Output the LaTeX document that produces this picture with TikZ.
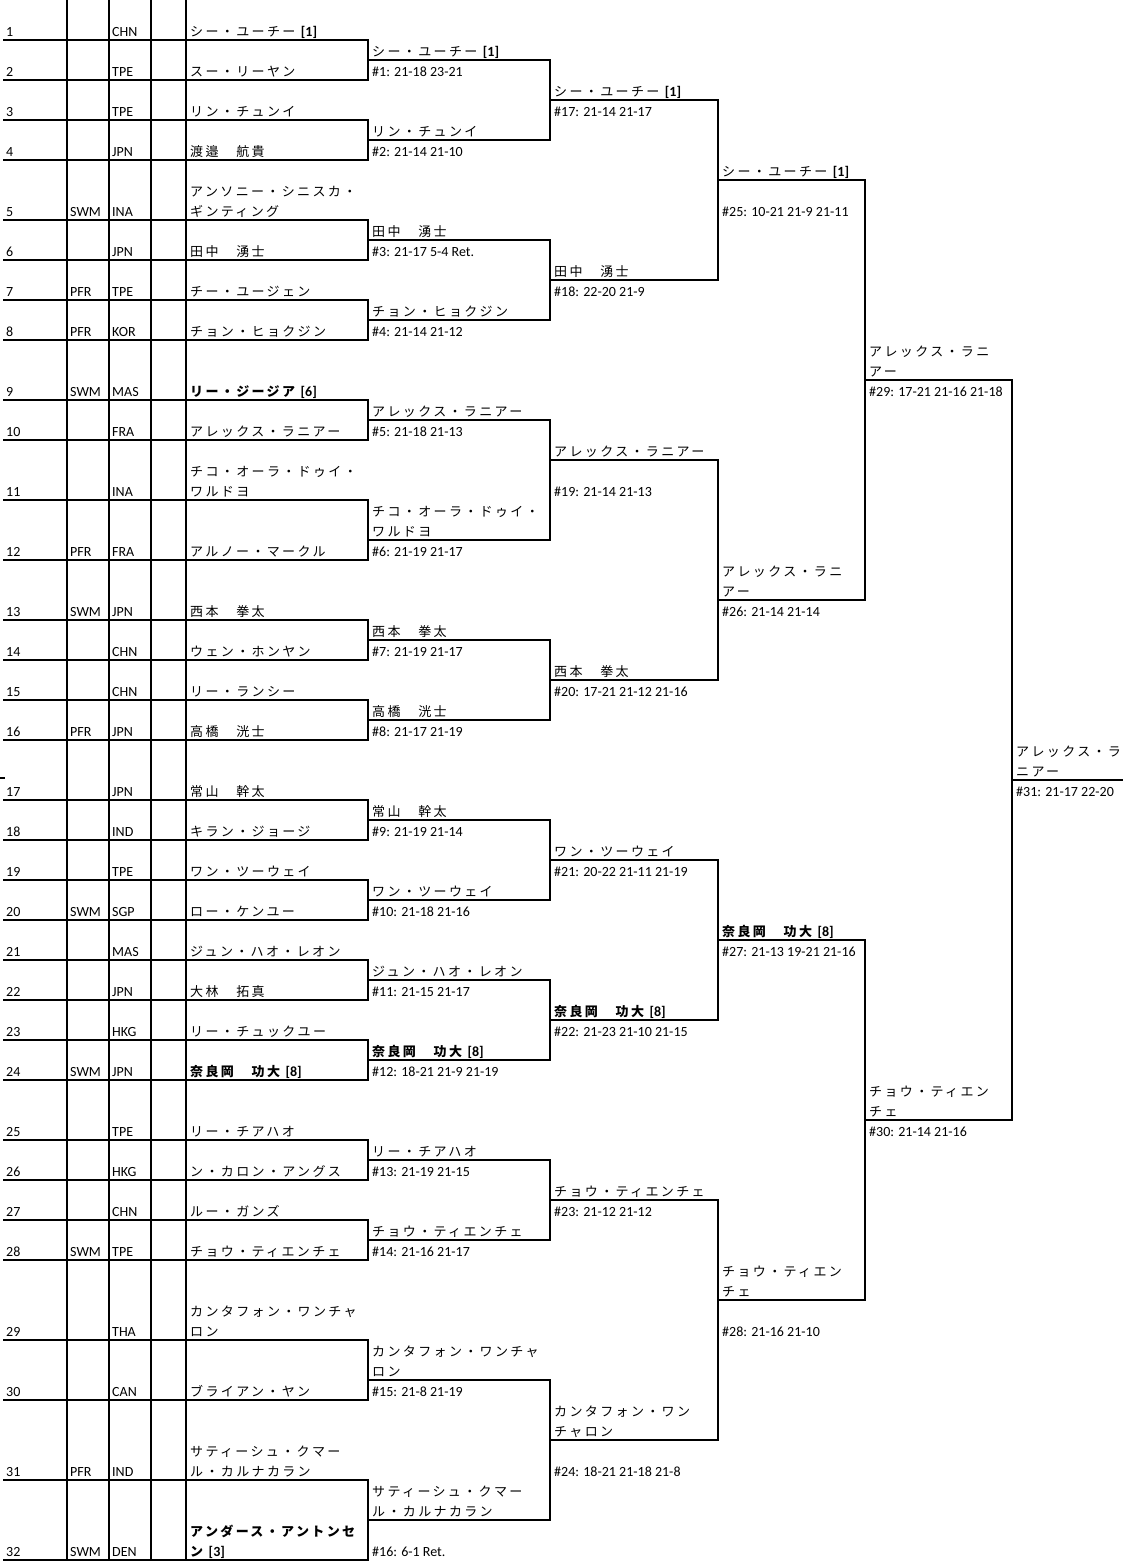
\documentclass[tikz,border=0pt]{standalone}
\usepackage{fontspec}
\setmainfont{Carlito}
\newfontfamily\jp{Noto Sans CJK JP}[Scale=0.93,LetterSpace=18]
\newcommand\J[1]{{\jp #1}}
\newcommand\JB[1]{{\jp\bfseries #1}}
\newcounter{tn}
\newcommand\tx[3]{\stepcounter{tn}\node[lbl] (t\arabic{tn}) at (#1,#2) {#3};}
\newcommand\prow[5]{\tx{6}{#1-4}{#2}\tx{70}{#1-4}{#3}\tx{112}{#1-4}{#4}\tx{190}{#1-4}{#5}}
% match label: x, line y, name, score baseline, score
\newcommand\mt[5]{\tx{#1}{#2-4}{#3}\tx{#1}{#4}{#5}}
\begin{document}
\begin{tikzpicture}[x=1pt,y=-1pt,
  lbl/.style={anchor=base west,inner sep=0pt,font=\fontsize{14}{16}\selectfont},
  ln/.style={line width=1.1pt,line cap=rect}]
\useasboundingbox (0,0) rectangle (1122,1561);
\fill[white] (0,0) rectangle (1122,1561);

% table grid
\foreach \xx in {67,109,151,186} \draw[ln] (\xx,0) -- (\xx,1560);
\foreach \b in {40,80,120,160,220,260,300,340,400,440,500,560,620,660,700,740,800,840,880,920,960,1000,1040,1080,1140,1180,1220,1260,1340,1400,1480,1560}
  \draw[ln] (4,\b) -- (368,\b);
\draw[ln] (0,778) -- (4,778);

% round 1
\foreach \a/\b in {40/80,120/160,220/260,300/340,400/440,500/560,620/660,700/740,800/840,880/920,960/1000,1040/1080,1140/1180,1220/1260,1340/1400,1480/1560}
  \draw[ln] (368,\a) -- (368,\b);
\foreach \h in {60,140,240,320,420,540,640,720,820,900,980,1060,1160,1240,1380,1520}
  \draw[ln] (368,\h) -- (550,\h);
% round 2
\foreach \a/\b in {60/140,240/320,420/540,640/720,820/900,980/1060,1160/1240,1380/1520}
  \draw[ln] (550,\a) -- (550,\b);
\foreach \h in {100,280,460,680,860,1020,1200,1440}
  \draw[ln] (550,\h) -- (718,\h);
% round 3
\foreach \a/\b in {100/280,460/680,860/1020,1200/1440}
  \draw[ln] (718,\a) -- (718,\b);
\foreach \h in {180,600,940,1300}
  \draw[ln] (718,\h) -- (865,\h);
% semifinals
\foreach \a/\b in {180/600,940/1300}
  \draw[ln] (865,\a) -- (865,\b);
\foreach \h in {380,1120}
  \draw[ln] (865,\h) -- (1012,\h);
% final
\draw[ln] (1012,380) -- (1012,1120);
\draw[ln] (1012,780) -- (1122,780);

% players
\prow{40}{1}{}{CHN}{\J{シー・ユーチー} \textbf{[1]}}
\prow{80}{2}{}{TPE}{\J{スー・リーヤン}}
\prow{120}{3}{}{TPE}{\J{リン・チュンイ}}
\prow{160}{4}{}{JPN}{\J{渡邉　航貴}}
\prow{220}{5}{SWM}{INA}{\J{ギンティング}}
\tx{190}{196}{\J{アンソニー・シニスカ・}}
\prow{260}{6}{}{JPN}{\J{田中　湧士}}
\prow{300}{7}{PFR}{TPE}{\J{チー・ユージェン}}
\prow{340}{8}{PFR}{KOR}{\J{チョン・ヒョクジン}}
\prow{400}{9}{SWM}{MAS}{\JB{リー・ジージア} \textbf{[6]}}
\prow{440}{10}{}{FRA}{\J{アレックス・ラニアー}}
\prow{500}{11}{}{INA}{\J{ワルドヨ}}
\tx{190}{476}{\J{チコ・オーラ・ドゥイ・}}
\prow{560}{12}{PFR}{FRA}{\J{アルノー・マークル}}
\prow{620}{13}{SWM}{JPN}{\J{西本　拳太}}
\prow{660}{14}{}{CHN}{\J{ウェン・ホンヤン}}
\prow{700}{15}{}{CHN}{\J{リー・ランシー}}
\prow{740}{16}{PFR}{JPN}{\J{高橋　洸士}}
\prow{800}{17}{}{JPN}{\J{常山　幹太}}
\prow{840}{18}{}{IND}{\J{キラン・ジョージ}}
\prow{880}{19}{}{TPE}{\J{ワン・ツーウェイ}}
\prow{920}{20}{SWM}{SGP}{\J{ロー・ケンユー}}
\prow{960}{21}{}{MAS}{\J{ジュン・ハオ・レオン}}
\prow{1000}{22}{}{JPN}{\J{大林　拓真}}
\prow{1040}{23}{}{HKG}{\J{リー・チュックユー}}
\prow{1080}{24}{SWM}{JPN}{\JB{奈良岡　功大} \textbf{[8]}}
\prow{1140}{25}{}{TPE}{\J{リー・チアハオ}}
\prow{1180}{26}{}{HKG}{\J{ン・カロン・アングス}}
\prow{1220}{27}{}{CHN}{\J{ルー・ガンズ}}
\prow{1260}{28}{SWM}{TPE}{\J{チョウ・ティエンチェ}}
\prow{1340}{29}{}{THA}{\J{ロン}}
\tx{190}{1316}{\J{カンタフォン・ワンチャ}}
\prow{1400}{30}{}{CAN}{\J{ブライアン・ヤン}}
\prow{1480}{31}{PFR}{IND}{\J{ル・カルナカラン}}
\tx{190}{1456}{\J{サティーシュ・クマー}}
\prow{1560}{32}{SWM}{DEN}{\JB{ン} \textbf{[3]}}
\tx{190}{1536}{\JB{アンダース・アントンセ}}

% round 1 results
\mt{372}{60}{\J{シー・ユーチー} \textbf{[1]}}{76}{\#1: 21-18 23-21}
\mt{372}{140}{\J{リン・チュンイ}}{156}{\#2: 21-14 21-10}
\mt{372}{240}{\J{田中　湧士}}{256}{\#3: 21-17 5-4 Ret.}
\mt{372}{320}{\J{チョン・ヒョクジン}}{336}{\#4: 21-14 21-12}
\mt{372}{420}{\J{アレックス・ラニアー}}{436}{\#5: 21-18 21-13}
\mt{372}{540}{\J{ワルドヨ}}{556}{\#6: 21-19 21-17}
\tx{372}{516}{\J{チコ・オーラ・ドゥイ・}}
\mt{372}{640}{\J{西本　拳太}}{656}{\#7: 21-19 21-17}
\mt{372}{720}{\J{高橋　洸士}}{736}{\#8: 21-17 21-19}
\mt{372}{820}{\J{常山　幹太}}{836}{\#9: 21-19 21-14}
\mt{372}{900}{\J{ワン・ツーウェイ}}{916}{\#10: 21-18 21-16}
\mt{372}{980}{\J{ジュン・ハオ・レオン}}{996}{\#11: 21-15 21-17}
\mt{372}{1060}{\JB{奈良岡　功大} \textbf{[8]}}{1076}{\#12: 18-21 21-9 21-19}
\mt{372}{1160}{\J{リー・チアハオ}}{1176}{\#13: 21-19 21-15}
\mt{372}{1240}{\J{チョウ・ティエンチェ}}{1256}{\#14: 21-16 21-17}
\mt{372}{1380}{\J{ロン}}{1396}{\#15: 21-8 21-19}
\tx{372}{1356}{\J{カンタフォン・ワンチャ}}
\mt{372}{1520}{\J{ル・カルナカラン}}{1556}{\#16: 6-1 Ret.}
\tx{372}{1496}{\J{サティーシュ・クマー}}

% round 2 results
\mt{554}{100}{\J{シー・ユーチー} \textbf{[1]}}{116}{\#17: 21-14 21-17}
\mt{554}{280}{\J{田中　湧士}}{296}{\#18: 22-20 21-9}
\mt{554}{460}{\J{アレックス・ラニアー}}{496}{\#19: 21-14 21-13}
\mt{554}{680}{\J{西本　拳太}}{696}{\#20: 17-21 21-12 21-16}
\mt{554}{860}{\J{ワン・ツーウェイ}}{876}{\#21: 20-22 21-11 21-19}
\mt{554}{1020}{\JB{奈良岡　功大} \textbf{[8]}}{1036}{\#22: 21-23 21-10 21-15}
\mt{554}{1200}{\J{チョウ・ティエンチェ}}{1216}{\#23: 21-12 21-12}
\mt{554}{1440}{\J{チャロン}}{1476}{\#24: 18-21 21-18 21-8}
\tx{554}{1416}{\J{カンタフォン・ワン}}

% quarterfinal results
\mt{722}{180}{\J{シー・ユーチー} \textbf{[1]}}{216}{\#25: 10-21 21-9 21-11}
\mt{722}{600}{\J{アー}}{616}{\#26: 21-14 21-14}
\tx{722}{576}{\J{アレックス・ラニ}}
\mt{722}{940}{\JB{奈良岡　功大} \textbf{[8]}}{956}{\#27: 21-13 19-21 21-16}
\mt{722}{1300}{\J{チェ}}{1336}{\#28: 21-16 21-10}
\tx{722}{1276}{\J{チョウ・ティエン}}

% semifinal results
\mt{869}{380}{\J{アー}}{396}{\#29: 17-21 21-16 21-18}
\tx{869}{356}{\J{アレックス・ラニ}}
\mt{869}{1120}{\J{チェ}}{1136}{\#30: 21-14 21-16}
\tx{869}{1096}{\J{チョウ・ティエン}}

% final result
\mt{1016}{780}{\J{ニアー}}{796}{\#31: 21-17 22-20}
\tx{1016}{756}{\J{アレックス・ラ}}
\end{tikzpicture}
\end{document}
